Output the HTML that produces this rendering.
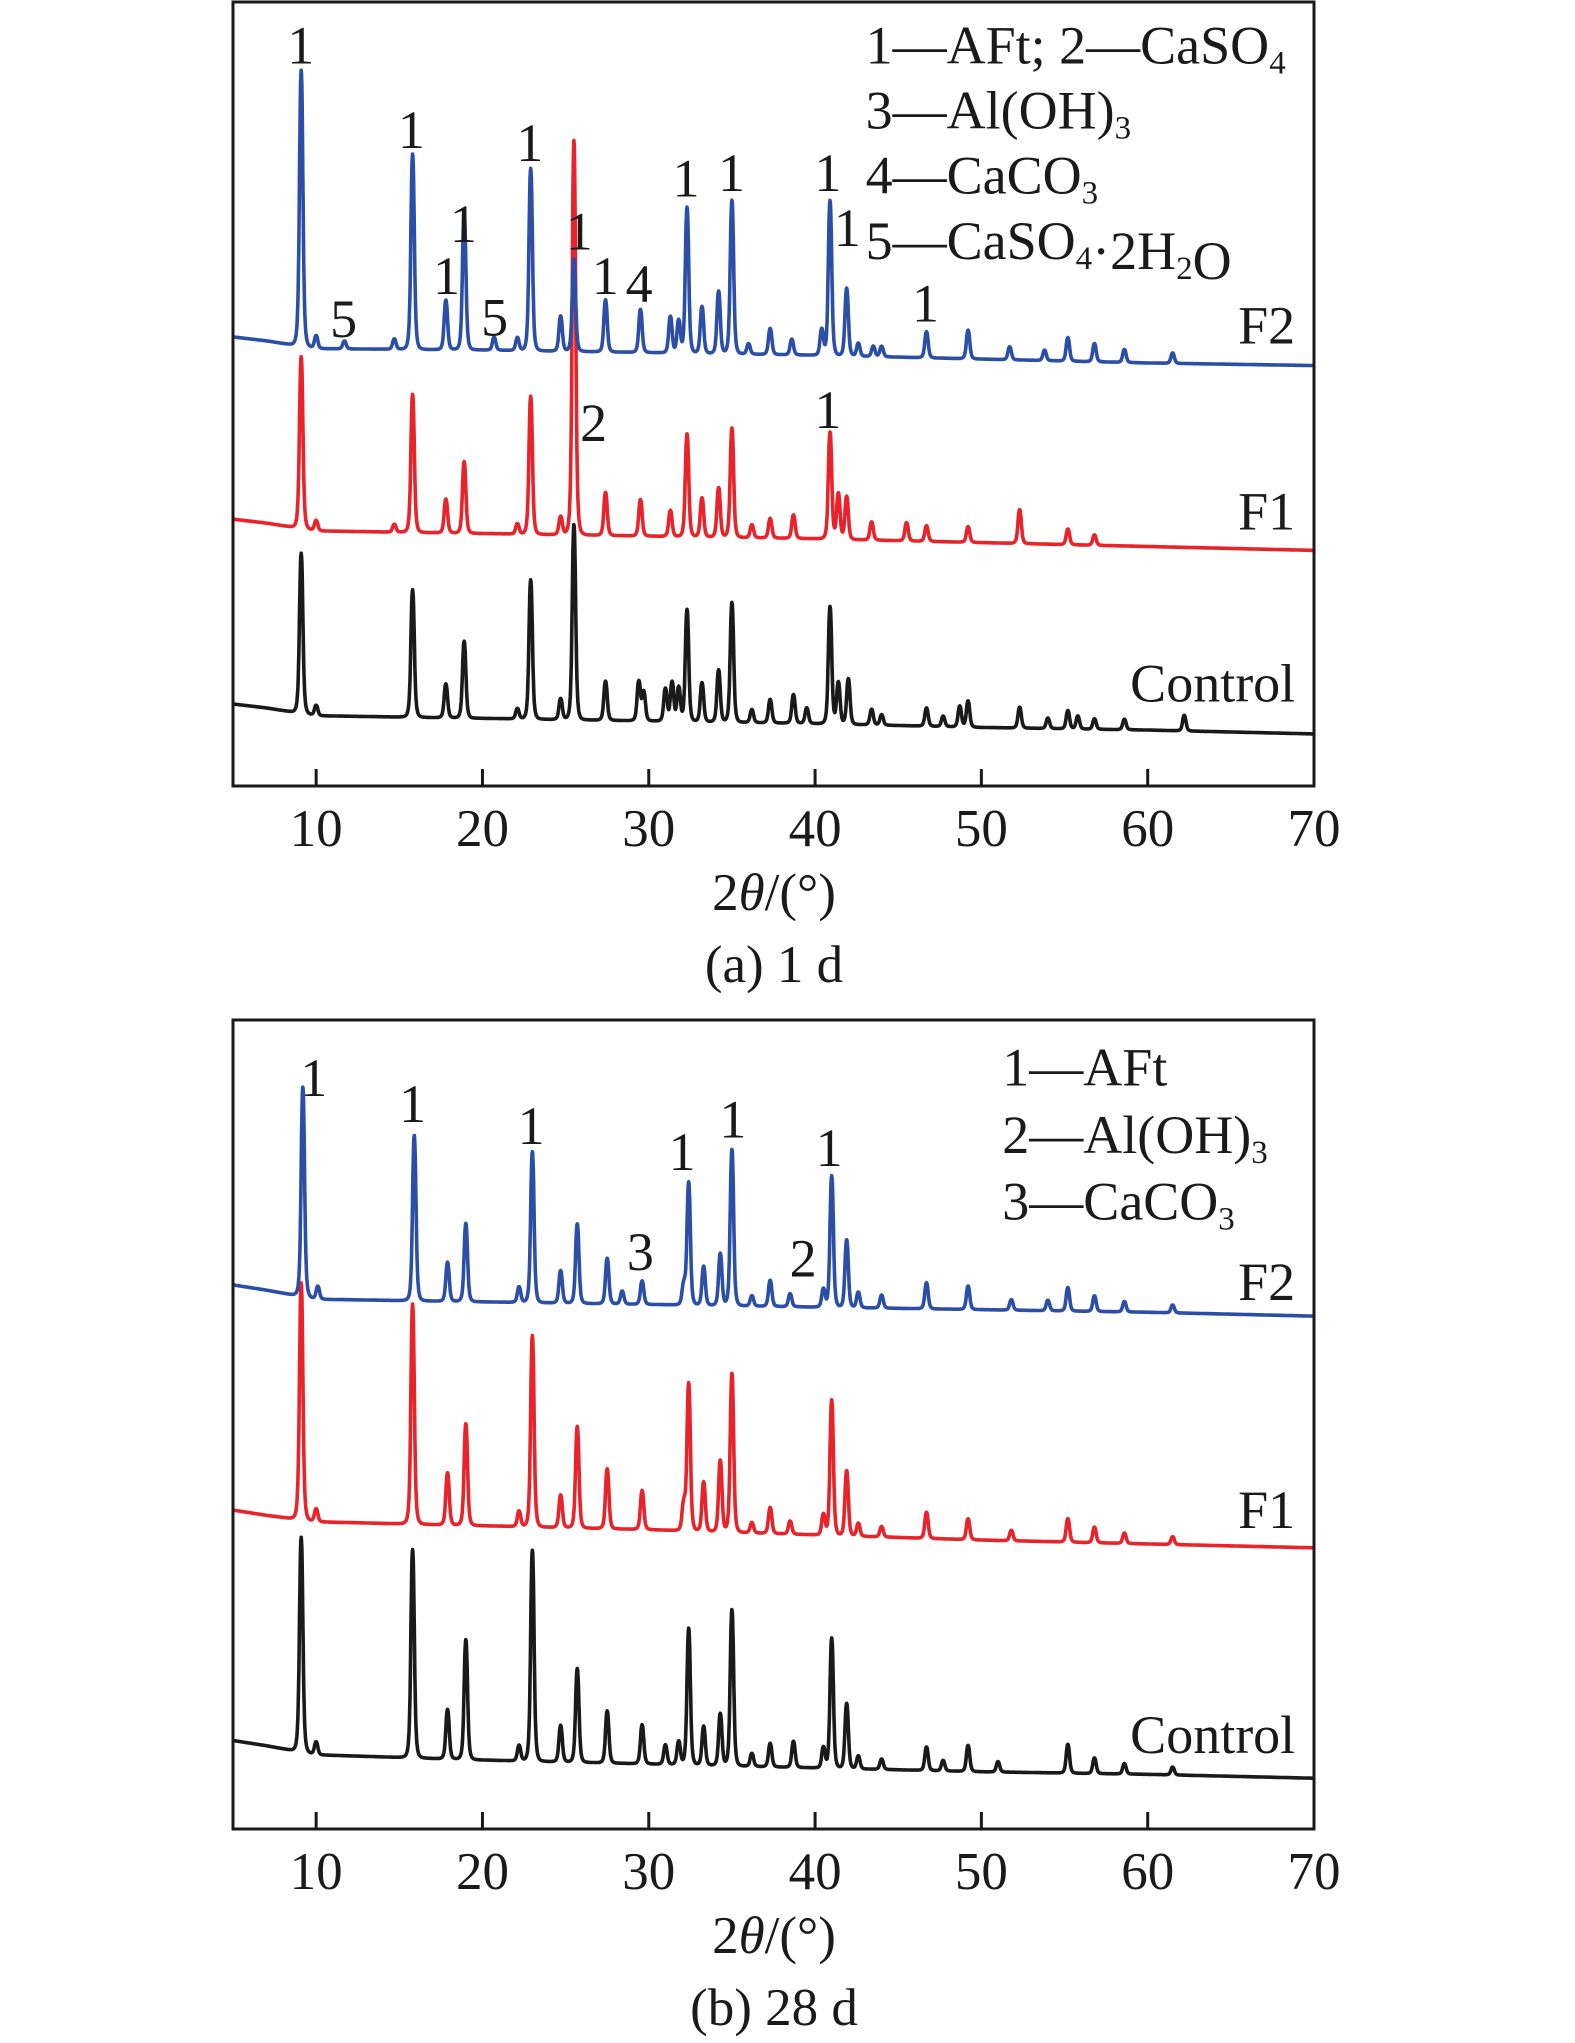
<!DOCTYPE html>
<html><head><meta charset="utf-8"><style>
html,body{margin:0;padding:0;background:#fff;}
svg{display:block;font-family:"Liberation Serif",serif;}
</style></head><body>
<svg id="chart" width="1575" height="2043" viewBox="0 0 1575 2043">
<g id="pa"></g>
<g id="pb"></g>
</svg>
<script>
// ---- data (intensity units; 2θ in degrees) ----
const baseX = [5,7,10,20,30,40,50,60,70];
const aF2Base = [345,342,336,335,333,331,328,325,323];
const aF1Base = [205,202,196,194,192,190,187,184,181];
const aCtBase = [63,60,54,52,50,48,45,43,40];
const bF2Base = [418,414,407,405,403,401,399,397,394];
const bF1Base = [245,241,236,233,230,226,222,219,216];
const bCtBase = [68,64,57,53,50,47,44,42,39];

const aF2Pos = [9.1,10,11.7,14.7,15.8,17.8,18.9,20.7,22.1,22.9,24.7,25.5,27.4,29.5,31.3,31.8,32.3,33.2,34.2,35.0,36.0,37.3,38.6,40.4,40.9,41.9,42.6,43.5,44,46.7,49.2,51.7,53.8,55.2,56.8,58.6,61.5];
const aF2H   = [212,10,6,8,150,38,106,10,10,140,27,71,40,33,28,25,112,36,48,118,8,20,12,20,119,52,10,8,8,20,22,10,8,18,14,10,8];
const aF1Pos = [9.1,10,14.7,15.8,17.8,18.9,22.1,22.9,24.7,25.5,27.4,29.5,31.3,32.3,33.2,34.2,35.0,36.2,37.3,38.7,40.9,41.4,41.9,43.4,45.5,46.7,49.2,52.3,55.2,56.8];
const aF1H   = [132,8,6,106,26,55,8,106,14,303,33,28,20,79,30,38,84,10,15,18,82,35,33,14,14,12,12,26,12,8];
const aCtPos = [9.1,10,15.8,17.8,18.9,22.1,22.9,24.7,25.5,27.4,29.4,29.7,31,31.4,31.8,32.3,33.2,34.2,35.0,36.2,37.3,38.7,39.5,40.9,41.4,42,43.4,44,46.7,47.7,48.7,49.2,52.3,54,55.2,55.8,56.8,58.6,62.2];
const aCtH   = [123,8,98,26,59,8,107,16,150,30,30,22,25,30,26,86,30,40,92,10,18,22,12,90,32,35,12,8,14,8,16,20,16,8,14,10,8,8,12];

const bF2Pos = [9.2,10.1,15.9,17.9,19,22.2,23,24.7,25.7,27.5,28.4,29.6,32.1,32.4,33.3,34.3,35.0,36.2,37.3,38.5,40.5,41.0,41.9,42.6,44,46.7,49.2,51.8,54,55.2,56.8,58.6,61.5];
const bF2H   = [161,10,127,30,60,12,116,25,61,35,10,18,15,94,30,40,120,8,20,10,14,101,52,12,10,20,18,8,8,18,12,8,6];
const bF1Pos = [9.1,10,15.8,17.9,19,22.2,23,24.7,25.7,27.5,29.6,32.1,32.4,33.3,34.3,35.0,36.2,37.3,38.5,40.5,41.0,41.9,42.6,44,46.7,49.2,51.8,55.2,56.8,58.6,61.5];
const bF1H   = [182,10,169,40,78,12,147,25,78,46,30,20,113,38,55,122,8,20,10,16,104,50,10,8,20,16,8,18,12,8,6];
const bCtPos = [9.1,10,15.8,17.9,19,22.2,23,24.7,25.7,27.5,29.6,31,31.8,32.4,33.3,34.3,35.0,36.2,37.3,38.7,40.5,41.0,41.9,42.6,44,46.7,47.7,49.2,51,55.2,56.8,58.6,61.5];
const bCtH   = [165,10,160,38,92,12,162,28,72,40,30,15,18,105,30,40,120,10,18,20,16,100,50,10,8,18,8,20,8,22,12,8,6];

const xTicks = [10,20,30,40,50,60,70];

// ---- geometry ----
const X0=233, X1=1314, XMIN=5, XMAX=70, K=1.3017;
const xs = d => X0 + (d-XMIN)*(X1-X0)/(XMAX-XMIN);
const NS='http://www.w3.org/2000/svg';
function mk(tag, attrs, parent){const e=document.createElementNS(NS,tag);for(const k in attrs)e.setAttribute(k,attrs[k]);parent.appendChild(e);return e;}
function interp(bx,by,x){for(let i=0;i<bx.length-1;i++){if(x<=bx[i+1]){const t=(x-bx[i])/(bx[i+1]-bx[i]);return by[i]+t*(by[i+1]-by[i]);}}return by[by.length-1];}
function pattern(base,pos,h,x){let v=interp(baseX,base,x);for(let i=0;i<pos.length;i++){const u=(x-pos[i])/0.12;v+=h[i]/(1+u*u*u*u*0.5+u*u*0.5);}return v;}

function panel(g, top, bottom, series, peakLabels, legend, seriesLabels, caption){
  const ys = v => bottom - v*K;
  series.forEach(s=>{
    let d='';
    for(let x=XMIN;x<=XMAX+1e-9;x+=0.02){const px=xs(x),py=Math.max(top+2,ys(pattern(s.base,s.pos,s.h,x)));d+=(d?'L':'M')+px.toFixed(1)+','+py.toFixed(1);}
    const p=mk('path',{d:d,fill:'none',stroke:s.color,'stroke-width':3.6,'stroke-linejoin':'round'},g);
    
    
  });
  const box=mk('rect',{x:X0,y:top,width:X1-X0,height:bottom-top,fill:'none',stroke:'#1a1a1a','stroke-width':3},g);
  
  
  xTicks.forEach(t=>{
    const l=mk('line',{x1:xs(t),x2:xs(t),y1:bottom,y2:bottom-17,stroke:'#1a1a1a','stroke-width':3},g);
    
    
    const tx=mk('text',{x:xs(t),y:bottom+60,'font-size':53,'text-anchor':'middle',fill:'#1a1a1a'},g);
    tx.textContent=t;
    
    
  });
  const at=mk('text',{x:774,y:bottom+124,'font-size':53,'text-anchor':'middle',fill:'#1a1a1a'},g);
  at.innerHTML='2<tspan font-style="italic">θ</tspan>/(°)';
  
  
  const cp=mk('text',{x:774,y:bottom+196,'font-size':53,'text-anchor':'middle',fill:'#1a1a1a'},g);
  cp.textContent=caption;
  
  
  peakLabels.forEach(pl=>{
    const t=mk('text',{x:pl[0]*K,y:pl[1]*K+18,'font-size':54,'text-anchor':'middle',fill:'#1a1a1a'},g);
    t.textContent=pl[2];
    
    
  });
  legend.forEach(lg=>{
    const t=mk('text',{x:lg[0]*K,y:lg[1]*K+18,'font-size':54,fill:'#1a1a1a'},g);
    t.innerHTML=lg[2];
    
    
  });
  seriesLabels.forEach(sl=>{
    const t=mk('text',{x:995*K,y:sl[0]*K+18,'font-size':54,'text-anchor':'end',fill:'#1a1a1a'},g);
    t.textContent=sl[1];
    
    
  });
}
const sub = s => '<tspan font-size="33" dy="10">'+s+'</tspan><tspan dy="-10"></tspan>';
panel(document.getElementById('pa'), 2, 786, [
  {name:'control-1d-line',color:'#1a1a1a',base:aCtBase,pos:aCtPos,h:aCtH},
  {name:'f1-1d-line',color:'#e8232a',base:aF1Base,pos:aF1Pos,h:aF1H},
  {name:'f2-1d-line',color:'#2b4ea6',base:aF2Base,pos:aF2Pos,h:aF2H}],
  [[231,35,'1'],[316,100,'1'],[343,212,'1'],[356,172,'1'],[407,110,'1'],[445,178,'1'],[465,212,'1'],[491,218,'4'],[264,245,'5'],[380,244,'5'],[527,137,'1'],[562,133,'1'],[636,133,'1'],[651,175,'1'],[711,233,'1'],[456,325,'2'],[636,315,'1']],
  [[665,35,'1—AFt; 2—CaSO'+sub('4')],[665,85,'3—Al(OH)'+sub('3')],[665,135,'4—CaCO'+sub('3')],[665,185,'5—CaSO'+sub('4')+'·2H'+sub('2')+'O']],
  [[250,'F2'],[393,'F1'],[525,'Control']], '(a) 1 d');
panel(document.getElementById('pb'), 1020, 1829, [
  {name:'control-28d-line',color:'#1a1a1a',base:bCtBase,pos:bCtPos,h:bCtH},
  {name:'f1-28d-line',color:'#e8232a',base:bF1Base,pos:bF1Pos,h:bF1H},
  {name:'f2-28d-line',color:'#2b4ea6',base:bF2Base,pos:bF2Pos,h:bF2H}],
  [[241,828,'1'],[317,848,'1'],[408,865,'1'],[524,885,'1'],[563,860,'1'],[637,882,'1'],[492,962,'3'],[617,967,'2']],
  [[770,820,'1—AFt'],[770,872,'2—Al(OH)'+sub('3')],[770,923,'3—CaCO'+sub('3')]],
  [[985,'F2'],[1160,'F1'],[1333,'Control']], '(b) 28 d');
</script>
</body></html>
